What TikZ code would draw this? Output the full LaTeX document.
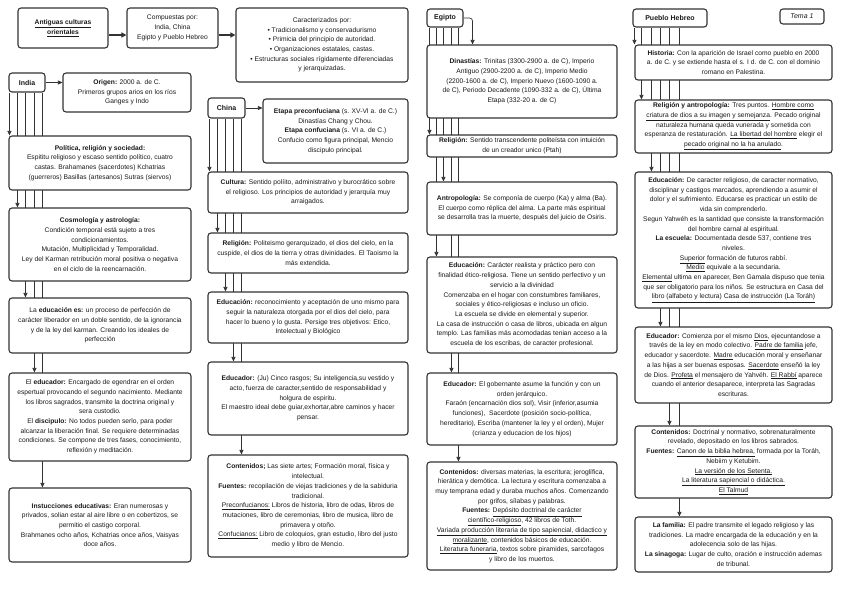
\documentclass[tikz,border=0pt]{standalone}
\usepackage{fontspec}
\setmainfont{Liberation Sans}
\usepackage{xcolor}
\usepackage{tikz}
\usetikzlibrary{arrows.meta,backgrounds}
\definecolor{ink}{HTML}{1A1A1A}
\definecolor{frame}{HTML}{333333}

\tikzset{
  panel/.style={draw=frame, line width=1.1pt, rounded corners=3pt, fill=white,
    align=center, inner sep=1.5pt, text=ink, font=\fontsize{6.7}{9.7}\selectfont},
  tag/.style={panel, font=\fontsize{7}{9}\selectfont\bfseries},
  link/.style={draw=frame, line width=0.7pt, -{Triangle[length=4.5pt,width=4pt]}},
  flow/.style={draw=frame, line width=1.3pt, -{Triangle[length=5pt,width=5pt]}}
}

\begin{document}
\begin{tikzpicture}[x=1pt,y=-1pt]
\useasboundingbox (0,0) rectangle (848,599);

% =========================
% TOP ROW
% =========================
\node[panel, minimum width=90pt, minimum height=40pt] (ant) at (63,28)
{\textbf{\underline{Antiguas culturas}}\\\textbf{\underline{orientales}}};
\node[panel, minimum width=91pt, minimum height=40pt] (comp) at (172.5,28)
{Compuestas por:\\India, China\\Egipto y Pueblo Hebreo};
\node[panel, minimum width=172pt, minimum height=74pt] (car) at (322,45)
{Caracterizados por:\\\textbullet{} Tradicionalismo y conservadurismo\\
\textbullet{} Primicia del principio de autoridad.\\
\textbullet{} Organizaciones estatales, castas.\\
\textbullet{} Estructuras sociales rígidamente diferenciadas\\y jerarquizadas.};

\draw[flow] ([yshift=-7pt]ant.east) -- ([yshift=-7pt]ant.east -| comp.west);
\draw[flow] ([yshift=-7pt]comp.east) -- ([yshift=-7pt]comp.east -| car.west);

% =========================
% INDIA
% =========================
\node[tag, minimum width=36pt, minimum height=19pt] (india) at (27,82.5) {India};
\node[panel, minimum width=128pt, minimum height=39pt] (origen) at (127,92.5)
{\textbf{Origen:} 2000 a. de C.\\Primeros grupos arios en los ríos\\Ganges y Indo};
\node[panel, minimum width=182pt, minimum height=54pt] (ipol) at (100,163)
{\textbf{Política, religión y sociedad:}\\
Espititu religioso y escaso sentido político, cuatro\\
castas. Brahamanes (sacerdotes) Kchatrias\\
(guerreros) Basillas (artesanos) Sutras (siervos)};
\node[panel, minimum width=182pt, minimum height=73pt] (icos) at (100,244.5)
{\textbf{Cosmología y astrología:}\\
Condición temporal está sujeto a tres\\condicionamientos.\\
Mutación, Multiplicidad y Temporalidad.\\
Ley del Karman retribución moral positiva o negativa\\
en el ciclo de la reencarnación.};
\node[panel, minimum width=182pt, minimum height=55pt] (iedu) at (100,325.5)
{La \textbf{educación es:} un proceso de perfección de\\
carácter liberador en un doble sentido, de la ignorancia\\
y de la ley del karman. Creando los ideales de\\perfección};
\node[panel, minimum width=182pt, minimum height=88pt] (iedr) at (100,417)
{El \textbf{educador:} Encargado de egendrar en el orden\\
espertual provocando el segundo nacimiento. Mediante\\
los libros sagrados, transmite la doctrina original y\\sera custodio.\\
El \textbf{discipulo:} No todos pueden serlo, para poder\\
alcanzar la liberación final. Se requiere determinadas\\
condiciones. Se compone de tres fases, conocimiento,\\
reflexión y meditación.};
\node[panel, minimum width=182pt, minimum height=74pt] (iins) at (100,525)
{\textbf{Instucciones educativas:} Eran numerosas y\\
privados, solian estar al aire libre o en cobertizos, se\\
permitio el castigo corporal.\\
Brahmanes ocho años, Kchatrias once años, Vaisyas\\doce años.};

\draw[link] (india.east) -- (india.east -| origen.west);

% =========================
% CHINA
% =========================
\node[tag, minimum width=37pt, minimum height=20pt] (china) at (226.5,108) {China};
\node[panel, minimum width=145pt, minimum height=64pt] (cetapa) at (335.5,131)
{\textbf{Etapa preconfuciana} (s. XV-VI a. de C.)\\
Dinastías Chang y Chou.\\
\textbf{Etapa confuciana} (s. VI a. de C.)\\
Confucio como figura principal, Mencio\\discipulo principal.};
\node[panel, minimum width=200pt, minimum height=41pt] (ccult) at (308,192.5)
{\textbf{Cultura:} Sentido políito, administrativo y burocrático sobre\\
el religioso. Los principios de autoridad y jerarquía muy\\arraigados.};
\node[panel, minimum width=200pt, minimum height=40pt] (crel) at (308,253)
{\textbf{Religión:} Politeismo gerarquizado, el dios del cielo, en la\\
cuspide, el dios de la tierra y otras divinidades. El Taoismo la\\más extendida.};
\node[panel, minimum width=200pt, minimum height=51pt] (cedu) at (308,317.5)
{\textbf{Educación:} reconocimiento y aceptación de uno mismo para\\
seguir la naturaleza otorgada por el dios del cielo, para\\
hacer lo bueno y lo gusta. Persige tres objetivos: Etico,\\
Intelectual y Biológico};
\node[panel, minimum width=200pt, minimum height=73pt] (cedr) at (308,398.5)
{\textbf{Educador:} (Ju) Cinco rasgos; Su inteligencia,su vestido y\\
acto, fuerza de caracter,sentido de responsabilidad y\\
holgura de espiritu.\\
El maestro ideal debe guiar,exhortar,abre caminos y hacer\\pensar.};
\node[panel, minimum width=200pt, minimum height=102pt] (ccont) at (308,506)
{\textbf{Contenidos;} Las siete artes; Formación moral, física y\\intelectual.\\
\textbf{Fuentes:} recopilación de viejas tradiciones y de la sabiduria\\tradicional.\\
\underline{Preconfucianos:} Libros de historia, libro de odas, libros de\\
mutaciones, libro de ceremonias, libro de musica, libro de\\
primavera y otoño.\\
\underline{Confucianos:} Libro de coloquios, gran estudio, libro del justo\\
medio y libro de Mencio.};

\draw[link] (china.east) -- (china.east -| cetapa.west);

% =========================
% EGIPTO
% =========================
\node[tag, minimum width=36pt, minimum height=18pt] (egipto) at (445,18) {Egipto};
\node[panel, minimum width=190pt, minimum height=73pt] (edin) at (522,81.5)
{\textbf{Dinastías:} Trinitas (3300-2900 a. de C), Imperio\\
Antiguo (2900-2200 a. de C), Imperio Medio\\
(2200-1600 a. de C), Imperio Nuevo (1600-1090 a.\\
de C), Periodo Decadente (1090-332 a. de C), Última\\
Etapa (332-20 a. de C)};
\node[panel, minimum width=190pt, minimum height=22pt] (erel) at (522,146)
{\textbf{Religión:} Sentido transcendente politeísta con intuición\\
de un creador unico (Ptah)};
\node[panel, minimum width=190pt, minimum height=53pt] (eant) at (522,208.5)
{\textbf{Antropología:} Se componía de cuerpo (Ka) y alma (Ba).\\
El cuerpo como réplica del alma. La parte más espiritual\\
se desarrolla tras la muerte, después del juicio de Osiris.};
\node[panel, minimum width=190pt, minimum height=96pt] (eedu) at (522,305)
{\textbf{Educación:} Carácter realista y práctico pero con\\
finalidad ético-religiosa. Tiene un sentido perfectivo y un\\
servicio a la divinidad\\
Comenzaba en el hogar con constumbres familiares,\\
sociales y ético-religiosas e incluso un oficio.\\
La escuela se divide en elemental y superior.\\
La casa de instrucción o casa de libros, ubicada en algun\\
templo. Las familias más acomodadas tenian acceso a la\\
escuela de los escribas, de caracter profesional.};
\node[panel, minimum width=190pt, minimum height=72pt] (eedr) at (522,409)
{\textbf{Educador:} El gobernante asume la función y con un\\
orden jerárquico.\\
Faraón (encarnación dios sol), Visir (inferior,asumia\\
funciones),\ \ Sacerdote (posición socio-política,\\
hereditario), Escriba (mantener la ley y el orden), Mujer\\
(crianza y educacion de los hijos)};
\node[panel, minimum width=190pt, minimum height=108pt] (econt) at (522,516)
{\textbf{Contenidos:} diversas materias, la escritura; jeroglífica,\\
hierática y demótica. La lectura y escritura comenzaba a\\
muy temprana edad y duraba muchos años. Comenzando\\
por grifos, sílabas y palabras.\\
\textbf{Fuentes:} \underline{Depósito doctrinal de carácter}\\
\underline{científico-religioso}, 42 libros de Toth.\\
\underline{Variada producción literaria de tipo sapiencial, didactico y}\\
\underline{moralizante}, contenidos básicos de educación.\\
\underline{Literatura funeraria}, textos sobre piramides, sarcofagos\\
y libro de los muertos.};

\draw[link, rounded corners=3pt] (egipto.east) -| ([xshift=9pt]egipto.east |- edin.north);

% =========================
% PUEBLO HEBREO
% =========================
\node[tag, minimum width=74pt, minimum height=18pt] (hebreo) at (670,18) {Pueblo Hebreo};
\node[tag, minimum width=44pt, minimum height=15pt, font=\fontsize{7}{9}\selectfont\itshape] (tema) at (802,16.5) {Tema 1};
\node[panel, minimum width=197pt, minimum height=35pt] (hhist) at (733.5,62.5)
{\textbf{Historia:} Con la aparición de Israel como pueblo en 2000\\
a. de C. y se extiende hasta el s. I d. de C. con el dominio\\
romano en Palestina.};
\node[panel, minimum width=197pt, minimum height=53pt] (hrel) at (733.5,126.5)
{\textbf{Religión y antropología:} Tres puntos. \underline{Hombre como}\\
\underline{criatura de dios a su imagen y semejanza}. Pecado original\\
naturaleza humana queda vunerada y sometida con\\
esperanza de restaturación. \underline{La libertad del hombre} elegir el\\
\underline{pecado original no la ha anulado}.};
\node[panel, minimum width=197pt, minimum height=136pt] (hedu) at (733.5,240)
{\textbf{Educación:} De caracter religioso, de caracter normativo,\\
disciplinar y castigos marcados, aprendiendo a asumir el\\
dolor y el sufrimiento. Educarse es practicar un estilo de\\
vida sin comprenderlo.\\
Segun Yahwéh es la santidad que consiste la transformación\\
del hombre carnal al espiritual.\\
\textbf{La escuela:} Documentada desde 537, contiene tres\\niveles.\\
\underline{Superior} formación de futuros rabbí.\\
\underline{Medio} equivale a la secundaria.\\
\underline{Elemental} ultima en aparecer, Ben Gamala dispuso que tenia\\
que ser obligatorio para los niños. Se estructura en Casa del\\
\underline{libro (alfabeto y lectura) Casa de instrucción (La Toráh)}};
\node[panel, minimum width=197pt, minimum height=76pt] (hedr) at (733.5,365)
{\textbf{Educador:} Comienza por el mismo \underline{Dios}, ejecuntandose a\\
través de la ley en modo colectivo. \underline{Padre de familia} jefe,\\
educador y sacerdote. \underline{Madre} educación moral y enseñanar\\
a las hijas a ser buenas esposas. \underline{Sacerdote} enseñó la ley\\
de Dios. \underline{Profeta} el mensajero de Yahvéh. \underline{El Rabbí} aparece\\
cuando el anterior desaparece, interpreta las Sagradas\\
escrituras.};
\node[panel, minimum width=197pt, minimum height=72pt] (hcont) at (733.5,462)
{\textbf{Contenidos:} Doctrinal y normativo, sobrenaturalmente\\
revelado, depositado en los libros sabrados.\\
\textbf{Fuentes:} \underline{Canon de la biblia hebrea,} formada por la Toráh,\\
Nebiim y Ketubim.\\
\underline{La versión de los Setenta.}\\
\underline{La literatura sapiencial o didáctica.}\\
\underline{El Talmud}};
\node[panel, minimum width=197pt, minimum height=55pt] (hfam) at (733.5,544.5)
{\textbf{La familia:} El padre transmite el legado religioso y las\\
tradiciones. La madre encargada de la educación y en la\\
adolecencia solo de las hijas.\\
\textbf{La sinagoga:} Lugar de culto, oración e instrucción ademas\\
de tribunal.};

% =========================
% BRANCH LINES (behind the panels)
% =========================
\begin{scope}[on background layer]
\foreach \dx/\t in {1/ipol, 9/icos, 17/iedu, 26/iedr, 34/iins}
  \draw[link] ([xshift=\dx pt]india.south west) -- ([xshift=\dx pt]india.south west |- \t.north);
\foreach \dx/\t in {2/ccult, 10/crel, 18/cedu, 26/cedr, 34/ccont}
  \draw[link] ([xshift=\dx pt]china.south west) -- ([xshift=\dx pt]china.south west |- \t.north);
\foreach \dx/\t in {3/erel, 17/eant, 10/eedu, 25/eedr, 32/econt}
  \draw[link] ([xshift=\dx pt]egipto.south west) -- ([xshift=\dx pt]egipto.south west |- \t.north);
\foreach \dx/\t in {2/hhist, 9/hrel, 19/hedu, 28/hedr, 37/hcont, 47/hfam}
  \draw[link] ([xshift=\dx pt]hebreo.south west) -- ([xshift=\dx pt]hebreo.south west |- \t.north);
\end{scope}

\end{tikzpicture}
\end{document}
